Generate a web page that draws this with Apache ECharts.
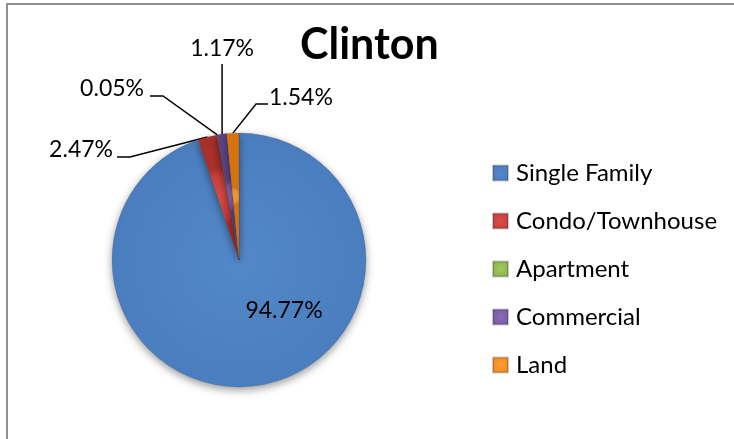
<!DOCTYPE html>
<html>
<head>
<meta charset="utf-8">
<script src="https://cdn.jsdelivr.net/npm/echarts@6/dist/echarts.min.js"></script>
<style>
html,body{margin:0;padding:0;background:#fff;}
#chart{width:734px;height:439px;}
</style>
</head>
<body>
<div id="chart"></div>
<script>
// ---- data ----
const title = 'Clinton';
const categories = ['Single Family', 'Condo/Townhouse', 'Apartment', 'Commercial', 'Land'];
const values = [94.77, 2.47, 0.05, 1.17, 1.54];

// ---- styling ----
const baseColors = ['#4A7EBF', '#C8403C', '#8DB54A', '#7A5AA6', '#F28C1E'];
const lightColors = ['#5287C8', '#D84C48', '#A2C95E', '#8A6EB6', '#FA9E36'];
const darkColors = ['#3A69A6', '#A8302D', '#74993A', '#5E4488', '#D8740E'];

// label placement config (style, per slice index)
const labelPlacement = [
  { x: 284, y: 311, align: 'center' },
  { x: 113, y: 150, align: 'right', bend: [130, 157], end: [117, 157] },
  { x: 144, y: 89, align: 'right', bend: [163, 96], end: [150, 96] },
  { x: 225, y: 49, align: 'center', bend: null, end: 64 },
  { x: 269, y: 98, align: 'left', bend: [256, 104], end: [268, 104] }
];

function grad(i) {
  return {
    type: 'radial', x: 0.5, y: 0.5, r: 0.7,
    colorStops: [
      { offset: 0, color: lightColors[i] },
      { offset: 0.72, color: baseColors[i] },
      { offset: 1, color: darkColors[i] }
    ]
  };
}

const pieData = categories.map((name, i) => {
  const item = {
    name: name,
    value: values[i],
    itemStyle: { color: grad(i) }
  };
  if (i === 0) {
    item.label = { position: 'inside' };
    item.labelLine = { show: false };
  }
  return item;
});

const chart = echarts.init(document.getElementById('chart'), null, { renderer: 'canvas' });

chart.setOption({
  backgroundColor: '#ffffff',
  animation: false,
  title: {
    text: title,
    left: 300,
    top: 24,
    padding: 0,
    textStyle: {
      fontFamily: 'Lato',
      fontWeight: 'bold',
      fontSize: 43,
      color: '#000'
    }
  },
  legend: {
    orient: 'vertical',
    left: 487,
    top: 154,
    itemWidth: 15,
    itemHeight: 15,
    itemGap: 20,
    icon: 'rect',
    data: categories,
    textStyle: {
      fontFamily: 'Lato',
      fontSize: 24,
      color: '#000',
      lineHeight: 28,
      padding: [0, 0, 0, 3]
    }
  },
  graphic: [{
    type: 'polyline',
    shape: { points: [[7, 439], [7, 4], [734, 4]] },
    style: { stroke: '#8e8e8e', lineWidth: 2, fill: null },
    silent: true
  }],
  series: [{
    type: 'pie',
    center: [239, 260],
    radius: 127,
    startAngle: 90,
    clockwise: true,
    avoidLabelOverlap: false,
    data: pieData,
    itemStyle: {
      borderColor: 'rgba(40,40,40,0.25)',
      borderWidth: 0.6,
      shadowBlur: 8,
      shadowOffsetY: 3,
      shadowColor: 'rgba(0,0,0,0.4)'
    },
    label: {
      show: true,
      position: 'outside',
      fontFamily: 'Lato',
      fontSize: 23,
      color: '#000',
      formatter: p => p.value.toFixed(2) + '%'
    },
    labelLine: {
      show: true,
      length: 10,
      length2: 10,
      lineStyle: { color: '#000', width: 1.5 }
    },
    labelLayout: function (params) {
      const cfg = labelPlacement[params.dataIndex];
      const out = { x: cfg.x, y: cfg.y, align: cfg.align, verticalAlign: 'middle' };
      if (params.labelLinePoints && cfg.end !== undefined) {
        const s = params.labelLinePoints[0];
        if (cfg.bend) {
          out.labelLinePoints = [s, cfg.bend, cfg.end];
        } else {
          // straight vertical leader from the slice edge up to the label
          out.x = s[0];
          out.labelLinePoints = [s, [s[0], (s[1] + cfg.end) / 2], [s[0], cfg.end]];
        }
      }
      return out;
    }
  }]
});
</script>
</body>
</html>
